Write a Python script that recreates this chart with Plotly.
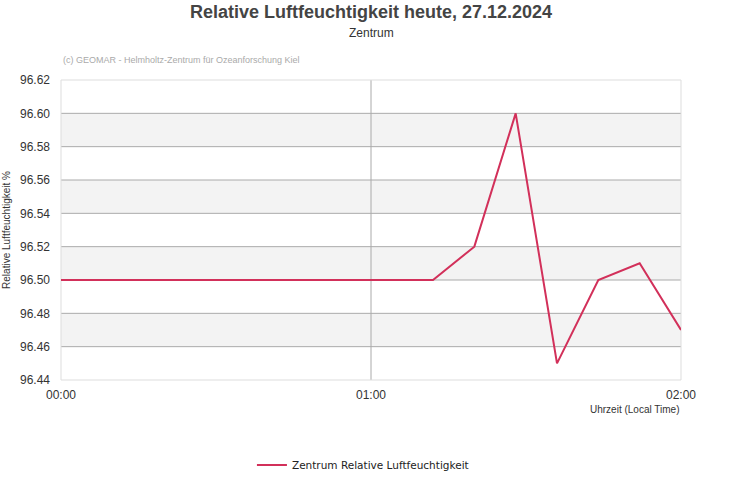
import plotly.graph_objects as go

times = ["2024-12-27 00:00", "2024-12-27 00:08", "2024-12-27 00:16", "2024-12-27 00:24",
         "2024-12-27 00:32", "2024-12-27 00:40", "2024-12-27 00:48", "2024-12-27 00:56",
         "2024-12-27 01:04", "2024-12-27 01:12", "2024-12-27 01:20", "2024-12-27 01:28",
         "2024-12-27 01:36", "2024-12-27 01:44", "2024-12-27 01:52", "2024-12-27 02:00"]
humidity = [96.50, 96.50, 96.50, 96.50, 96.50, 96.50, 96.50, 96.50,
            96.50, 96.50, 96.52, 96.60, 96.45, 96.50, 96.51, 96.47]
y_ticks = [96.44, 96.46, 96.48, 96.50, 96.52, 96.54, 96.56, 96.58, 96.60, 96.62]
x_ticks = ["2024-12-27 00:00", "2024-12-27 01:00", "2024-12-27 02:00"]
x_labels = ["00:00", "01:00", "02:00"]

fig = go.Figure()
fig.add_trace(go.Scatter(
    x=times, y=humidity, mode="lines", name="Zentrum Relative Luftfeuchtigkeit",
    line=dict(color="#d2305a", width=2)))

shapes = []
# alternating bands
for i in range(len(y_ticks) - 1):
    if i % 2 == 1:
        shapes.append(dict(type="rect", xref="paper", yref="y", x0=0, x1=1,
                           y0=y_ticks[i], y1=y_ticks[i + 1], fillcolor="#f3f3f3",
                           line=dict(width=0), layer="below"))
# inner grid lines
for v in y_ticks[1:-1]:
    shapes.append(dict(type="line", xref="paper", yref="y", x0=0, x1=1, y0=v, y1=v,
                       line=dict(color="#aaaaaa", width=1), layer="below"))
for v in x_ticks[1:-1]:
    shapes.append(dict(type="line", xref="x", yref="paper", x0=v, x1=v, y0=0, y1=1,
                       line=dict(color="#aaaaaa", width=1), layer="below"))
# border
shapes.append(dict(type="rect", xref="paper", yref="paper", x0=0, x1=1, y0=0, y1=1,
                   line=dict(color="#dddddd", width=1), layer="below"))

fig.update_layout(
    width=731, height=500,
    margin=dict(l=61, r=50, t=80, b=120),
    paper_bgcolor="white", plot_bgcolor="white",
    font=dict(family="Liberation Sans, Arial, sans-serif", color="#333333", size=11),
    shapes=shapes,
    showlegend=True,
    legend=dict(orientation="h", x=0.487, xanchor="center", y=-0.283, yanchor="middle",
                itemwidth=30,
                font=dict(family="DejaVu Sans", size=10.5, color="#222222")),
    xaxis=dict(type="date", range=[x_ticks[0], x_ticks[-1]], tickvals=x_ticks,
               ticktext=x_labels, showgrid=False, zeroline=False, showline=False,
               automargin=False,
               ticks="", ticklabelstandoff=6, tickfont=dict(size=12, color="#333333")),
    yaxis=dict(range=[y_ticks[0], y_ticks[-1]], tickvals=y_ticks,
               ticktext=[f"{v:.2f}" for v in y_ticks], showgrid=False,
               zeroline=False, showline=False, ticks="", ticklabelstandoff=10,
               automargin=False,
               tickfont=dict(size=12, color="#333333"),
               title=dict(text="Relative Luftfeuchtigkeit %", standoff=7,
                          font=dict(size=10, color="#333333"))),
    annotations=[
        dict(text="<b>Relative Luftfeuchtigkeit heute, 27.12.2024</b>", xref="paper",
             yref="paper", x=0.5, y=1, yshift=68, xanchor="center", yanchor="middle",
             showarrow=False, font=dict(size=18, color="#444444")),
        dict(text="Zentrum", xref="paper", yref="paper", x=0.5, y=1, yshift=47,
             xanchor="center", yanchor="middle", showarrow=False,
             font=dict(size=12, color="#333333")),
        dict(text="(c) GEOMAR - Helmholtz-Zentrum für Ozeanforschung Kiel", xref="paper",
             yref="paper", x=0, y=1, xshift=0, yshift=20, xanchor="left", yanchor="middle",
             showarrow=False, font=dict(size=9, color="#aaaaaa")),
        dict(text="Uhrzeit (Local Time)", xref="paper", yref="paper", x=1, y=0,
             yshift=-29, xanchor="right", yanchor="middle", showarrow=False,
             font=dict(size=10, color="#333333")),
    ],
)
fig.write_html("out.html")
